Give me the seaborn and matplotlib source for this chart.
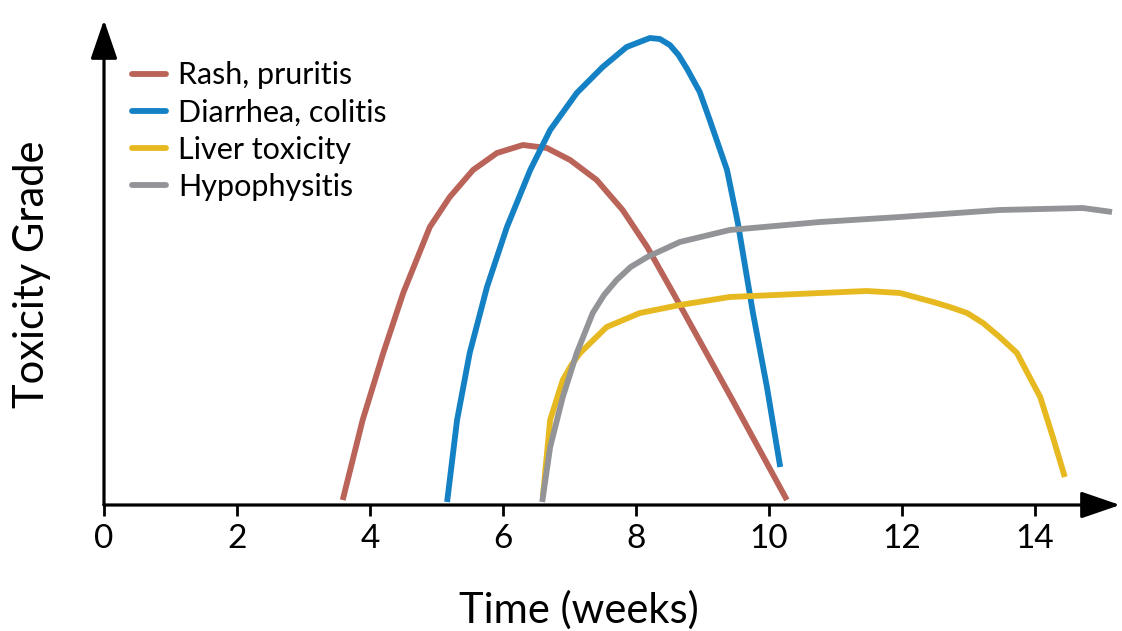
import matplotlib
matplotlib.use("Agg")
import matplotlib.pyplot as plt
import seaborn as sns
import pandas as pd

# values (time in weeks, toxicity grade in arbitrary units)
rash_t = [3.59, 3.89, 4.20, 4.50, 4.90, 5.20, 5.55, 5.91, 6.30, 6.66, 7.01, 7.41, 7.80, 8.17, 8.56, 8.81, 9.46, 10.27]
rash_y = [0.05, 0.85, 1.52, 2.12, 2.78, 3.08, 3.35, 3.52, 3.60, 3.57, 3.45, 3.25, 2.95, 2.58, 2.12, 1.82, 1.04, 0.05]

diarrhea_t = [5.16, 5.31, 5.50, 5.76, 6.06, 6.41, 6.71, 7.11, 7.50, 7.86, 8.21, 8.36, 8.51, 8.64, 8.77, 8.96,
              9.11, 9.37, 9.53, 9.76, 9.97, 10.17]
diarrhea_y = [0.03, 0.85, 1.52, 2.18, 2.78, 3.35, 3.75, 4.12, 4.38, 4.58, 4.67, 4.66, 4.60, 4.50, 4.36, 4.13,
              3.85, 3.35, 2.83, 1.92, 1.18, 0.38]

liver_t = [6.60, 6.71, 6.90, 7.03, 7.16, 7.56, 8.06, 8.66, 9.41, 10.77, 11.47, 11.97, 12.47, 12.72,
           12.98, 13.22, 13.47, 13.73, 13.92, 14.08, 14.27, 14.45]
liver_y = [0.08, 0.85, 1.25, 1.40, 1.52, 1.78, 1.92, 2.00, 2.08, 2.12, 2.14, 2.12, 2.03, 1.98,
           1.92, 1.82, 1.68, 1.52, 1.28, 1.08, 0.68, 0.28]

hypo_t = [6.59, 6.71, 6.90, 7.11, 7.35, 7.52, 7.71, 7.92, 8.17, 8.66, 9.41, 10.77, 11.97, 13.47, 14.72, 15.16]
hypo_y = [0.03, 0.58, 1.08, 1.52, 1.92, 2.10, 2.25, 2.38, 2.48, 2.63, 2.75, 2.83, 2.88, 2.95, 2.97, 2.93]

names = ["Rash, pruritis", "Diarrhea, colitis", "Liver toxicity", "Hypophysitis"]
colors = ["#BA6459", "#1581C5", "#E7B921", "#929497"]
xticks = [0, 2, 4, 6, 8, 10, 12, 14]

frames = []
for name, t, y in zip(names, [rash_t, diarrhea_t, liver_t, hypo_t],
                      [rash_y, diarrhea_y, liver_y, hypo_y]):
    frames.append(pd.DataFrame({"time": t, "grade": y, "toxicity": name}))
df = pd.concat(frames, ignore_index=True)

sns.set_style("white")
plt.rcParams["font.family"] = ["Lato", "DejaVu Sans"]
plt.rcParams["text.color"] = "black"
plt.rcParams["axes.labelcolor"] = "black"
plt.rcParams["xtick.color"] = "black"

fig = plt.figure(figsize=(11.22, 6.31), dpi=100)
ax = fig.add_axes([104 / 1122, 126 / 631, 1016 / 1122, 485 / 631])

sns.lineplot(data=df, x="time", y="grade", hue="toxicity", palette=colors,
             sort=False, estimator=None, linewidth=4.2, ax=ax, legend=False)
for ln in ax.lines:
    ln.set_clip_on(False)
    ln.set_solid_capstyle("butt")
    ln.set_solid_joinstyle("round")

ax.set_xlim(0, 15.28)
ax.set_ylim(0, 4.85)
for s in ax.spines.values():
    s.set_visible(False)

# axis arrows
ax.annotate("", xy=(1.0, 0), xytext=(0, 0), xycoords="axes fraction",
            arrowprops=dict(arrowstyle="-|>,head_length=1.6,head_width=0.55",
                            mutation_scale=15, lw=2.3, color="black",
                            shrinkA=0, shrinkB=0))
ax.annotate("", xy=(0, 1.0), xytext=(0, 0), xycoords="axes fraction",
            arrowprops=dict(arrowstyle="-|>,head_length=1.6,head_width=0.55",
                            mutation_scale=15, lw=2.3, color="black",
                            shrinkA=0, shrinkB=0))

ax.set_xticks(xticks)
ax.set_xticklabels([str(v) for v in xticks])
ax.set_yticks([])
ax.tick_params(axis="x", bottom=True, direction="out", length=8, width=2,
               labelsize=24, pad=6, color="black", labelcolor="black")

ax.set_xlabel("Time (weeks)", fontsize=30, color="black")
ax.set_ylabel("Toxicity Grade", fontsize=30, color="black")
ax.xaxis.set_label_coords(0.467, -0.175)
ax.yaxis.set_label_coords(-0.052, 0.475)

handles = [plt.Line2D([], [], color=c, lw=4.2) for c in colors]
leg = ax.legend(handles, names, loc="upper left", bbox_to_anchor=(0.028, 0.915),
                frameon=False, fontsize=22, handlelength=1.1, handletextpad=0.4,
                labelspacing=0.30, borderaxespad=0, borderpad=0)
for txt in leg.get_texts():
    txt.set_color("black")

fig.savefig("out.png", dpi=100)
